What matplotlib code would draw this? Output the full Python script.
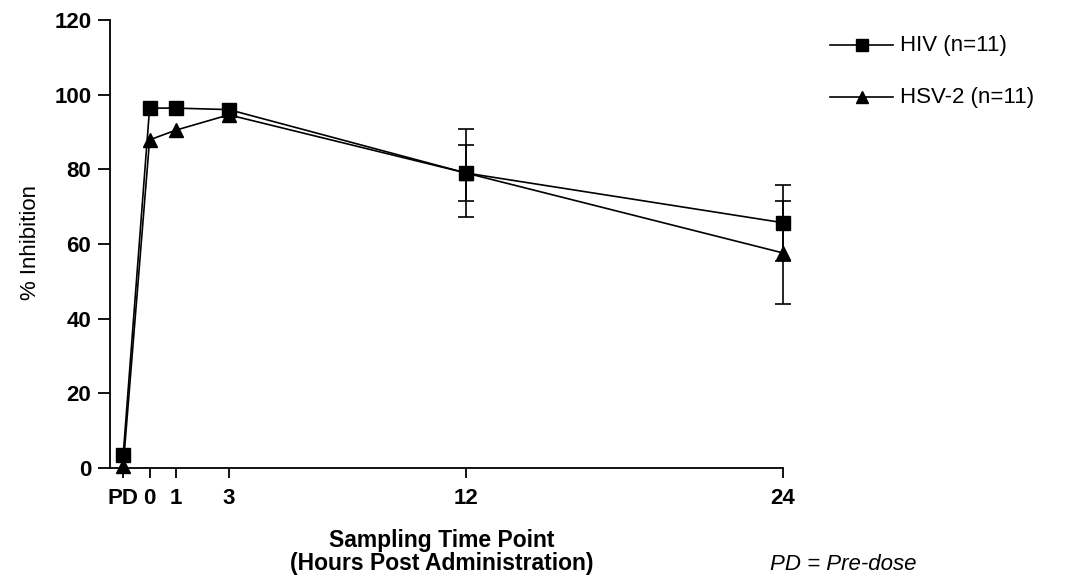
import matplotlib
matplotlib.use("Agg")
import matplotlib.pyplot as plt
from matplotlib.lines import Line2D

plt.rcParams['font.family'] = ['Liberation Sans', 'DejaVu Sans']

# Data
hours = [-1, 0, 1, 3, 12, 24]
tick_labels = ["PD", "0", "1", "3", "12", "24"]
hiv = [3.5, 96.4, 96.4, 96.0, 79.0, 65.7]
hiv_err = [0, 0, 0, 0, 11.7, 10.2]
hsv = [0.5, 87.9, 90.5, 94.6, 79.0, 57.6]
hsv_err = [0, 0, 0, 0, 7.6, 13.8]
series_labels = ["HIV (n=11)", "HSV-2 (n=11)"]
markers = ['s', '^']
msizes = [10, 9.5]

W, H = 1071, 577
fig = plt.figure(figsize=(W / 100, H / 100), dpi=100)
ax = fig.add_axes([110 / W, 1 - 468 / H, (783 - 110) / W, (468 - 20) / H])

for ys, es, m, ms in zip([hiv, hsv], [hiv_err, hsv_err], markers, msizes):
    ax.plot(hours, ys, color='black', lw=1.2, marker=m, markersize=ms, clip_on=False, zorder=3)
    xe = [x for x, e in zip(hours, es) if e > 0]
    ye = [y for y, e in zip(ys, es) if e > 0]
    ee = [e for e in es if e > 0]
    ax.errorbar(xe, ye, yerr=ee, fmt='none', ecolor='black', elinewidth=1.2,
                capsize=5.5, capthick=1.2, clip_on=False, zorder=2)

ax.set_xlim(-1.5, 24)
ax.set_ylim(0, 120)
ax.set_xticks(hours)
ax.set_xticklabels(tick_labels)
ax.set_yticks([0, 20, 40, 60, 80, 100, 120])
for s in ['top', 'right']:
    ax.spines[s].set_visible(False)
for s in ['left', 'bottom']:
    ax.spines[s].set_linewidth(1.3)
ax.tick_params(axis='y', direction='out', length=8.5, width=1.3, labelsize=16, pad=5)
ax.tick_params(axis='x', direction='out', length=7.5, width=1.3, labelsize=16, pad=7)
for t in ax.get_xticklabels() + ax.get_yticklabels():
    t.set_fontweight('bold')

fig.text(30 / W, 1 - 243 / H, "% Inhibition", rotation=90, ha='center', va='center', fontsize=16)
fig.text(442 / W, 1 - 552 / H, "Sampling Time Point\n(Hours Post Administration)",
         ha='center', va='center', fontsize=16.5, fontweight='bold', linespacing=1.05)
fig.text(770 / W, 1 - 564 / H, "PD = Pre-dose", ha='left', va='center',
         fontsize=16, style='italic')

# Legend drawn in figure coordinates
for i, (lab, m, ms) in enumerate(zip(series_labels, markers, msizes)):
    yy = 1 - (45 + 52 * i) / H
    fig.add_artist(Line2D([830 / W, 893 / W], [yy, yy], color='black', lw=1.2,
                          transform=fig.transFigure))
    fig.add_artist(Line2D([862 / W], [yy], color='black', marker=m, markersize=ms - 1,
                          transform=fig.transFigure))
    fig.text(900 / W, yy, lab, ha='left', va='center', fontsize=16)

fig.savefig("out.png", dpi=100)
